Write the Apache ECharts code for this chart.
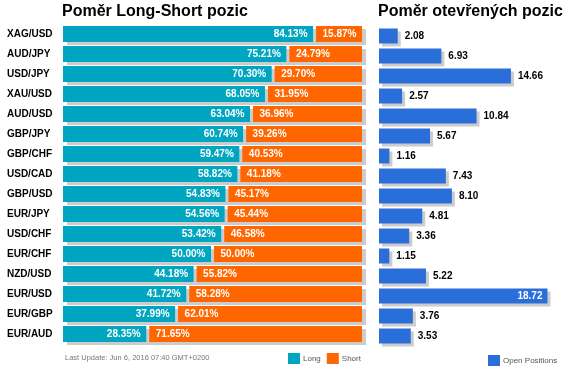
<!DOCTYPE html>
<html>
<head>
<meta charset="utf-8">
<script src="https://cdn.jsdelivr.net/npm/echarts@6/dist/echarts.min.js"></script>
<style>html,body{margin:0;padding:0;background:#fff}#c{width:570px;height:375px}</style>
</head>
<body>
<div id="c"></div>
<script>
var categories = ['XAG/USD','AUD/JPY','USD/JPY','XAU/USD','AUD/USD','GBP/JPY','GBP/CHF','USD/CAD','GBP/USD','EUR/JPY','USD/CHF','EUR/CHF','NZD/USD','EUR/USD','EUR/GBP','EUR/AUD'];
var longPct = [84.13,75.21,70.30,68.05,63.04,60.74,59.47,58.82,54.83,54.56,53.42,50.00,44.18,41.72,37.99,28.35];
var shortPct = [15.87,24.79,29.70,31.95,36.96,39.26,40.53,41.18,45.17,45.44,46.58,50.00,55.82,58.28,62.01,71.65];
var openPos = [2.08,6.93,14.66,2.57,10.84,5.67,1.16,7.43,8.10,4.81,3.36,1.15,5.22,18.72,3.76,3.53];

var TEAL = '#00a6c0', ORANGE = '#ff6600', BLUE = '#2a6fd9', SHADOW = '#cccccc';
var FF = '"Liberation Sans", Arial, sans-serif';

var chart = echarts.init(document.getElementById('c'), null, {renderer:'canvas'});

function longRender(params, api) {
  var cat = api.value(1), v = api.value(0);
  var p0 = api.coord([0, cat]), p1 = api.coord([v, cat]), p2 = api.coord([100, cat]);
  var h = api.size([0, 1])[1] * 0.8;
  var y = p0[1] - h / 2;
  return {type:'group', children:[
    {type:'rect', shape:{x:p0[0]+4, y:y+3, width:p2[0]-p0[0], height:h}, style:{fill:SHADOW}},
    {type:'rect', shape:{x:p0[0], y:y, width:p1[0]-p0[0]-1.5, height:h}, style:{fill:TEAL}},
    {type:'text', style:{text:v.toFixed(2)+'%', x:p1[0]-7, y:p0[1]+0.5, align:'right', verticalAlign:'middle', fill:'#fff', font:'bold 10px ' + FF}}
  ]};
}
function shortRender(params, api) {
  var cat = api.value(2), a = api.value(0), b = api.value(1);
  var p1 = api.coord([a, cat]), p2 = api.coord([a + b, cat]);
  var h = api.size([0, 1])[1] * 0.8;
  var y = p1[1] - h / 2;
  return {type:'group', children:[
    {type:'rect', shape:{x:p1[0]+1.5, y:y, width:p2[0]-p1[0]-1.5, height:h}, style:{fill:ORANGE}},
    {type:'text', style:{text:b.toFixed(2)+'%', x:p1[0]+8, y:p1[1]+0.5, align:'left', verticalAlign:'middle', fill:'#fff', font:'bold 10px ' + FF}}
  ]};
}

var option = {
  animation: false,
  textStyle: {fontFamily: FF},
  title: [
    {text:'Poměr Long-Short pozic', left:62, top:4, padding:0, textStyle:{fontSize:16, fontWeight:'bold', color:'#000', fontFamily:FF}},
    {text:'Poměr otevřených pozic', left:378, top:4, padding:0, textStyle:{fontSize:16, fontWeight:'bold', color:'#000', fontFamily:FF}}
  ],
  legend: [
    {data:[{name:'Long', itemStyle:{color:TEAL}}, {name:'Short', itemStyle:{color:ORANGE}}], left:288, top:353, padding:0, itemWidth:12, itemHeight:11, itemGap:6, icon:'rect', selectedMode:false,
     textStyle:{fontSize:8, color:'#555', fontFamily:FF, padding:[0,0,0,-2]}},
    {data:[{name:'Open Positions', itemStyle:{color:BLUE}}], left:488, top:355, padding:0, itemWidth:12, itemHeight:11, icon:'rect', selectedMode:false,
     textStyle:{fontSize:8, color:'#555', fontFamily:FF, padding:[0,0,0,-2]}}
  ],
  grid: [
    {left:63, top:24, width:299, height:320},
    {left:379, top:26, width:180, height:320}
  ],
  xAxis: [
    {gridIndex:0, type:'value', min:0, max:100, show:false},
    {gridIndex:1, type:'value', min:0, max:20, show:false}
  ],
  yAxis: [
    {gridIndex:0, type:'category', data:categories, inverse:true, axisLine:{show:false}, axisTick:{show:false}, splitLine:{show:false},
     axisLabel:{align:'left', margin:56, fontSize:10, fontWeight:'bold', color:'#000', fontFamily:FF}},
    {gridIndex:1, type:'category', data:categories, inverse:true, show:false}
  ],
  series: [
    {name:'Long', type:'custom', xAxisIndex:0, yAxisIndex:0, itemStyle:{color:TEAL}, renderItem:longRender, encode:{x:0, y:1},
     data: longPct.map(function(v, i){ return [v, i]; })},
    {name:'Short', type:'custom', xAxisIndex:0, yAxisIndex:0, itemStyle:{color:ORANGE}, renderItem:shortRender, encode:{x:[0,1], y:2},
     data: shortPct.map(function(v, i){ return [longPct[i], v, i]; })},
    {name:'Open Positions', type:'bar', xAxisIndex:1, yAxisIndex:1, barWidth:15,
     itemStyle:{color:BLUE, shadowColor:SHADOW, shadowOffsetX:3, shadowOffsetY:3, shadowBlur:0},
     label:{show:true, position:'right', distance:7, fontSize:10, fontWeight:'bold', color:'#000', fontFamily:FF, formatter:function(p){return p.value.toFixed(2);}},
     data: openPos.map(function(v){ return v > 16 ? {value:v, label:{position:'insideRight', distance:5, color:'#fff'}} : v; })}
  ],
  graphic: [
    {type:'text', left:65, top:354, style:{text:'Last Update: Jun 6, 2016 07:40 GMT+0200', fill:'#777', font:'7.5px ' + FF}}
  ]
};
chart.setOption(option);
</script>
</body>
</html>
